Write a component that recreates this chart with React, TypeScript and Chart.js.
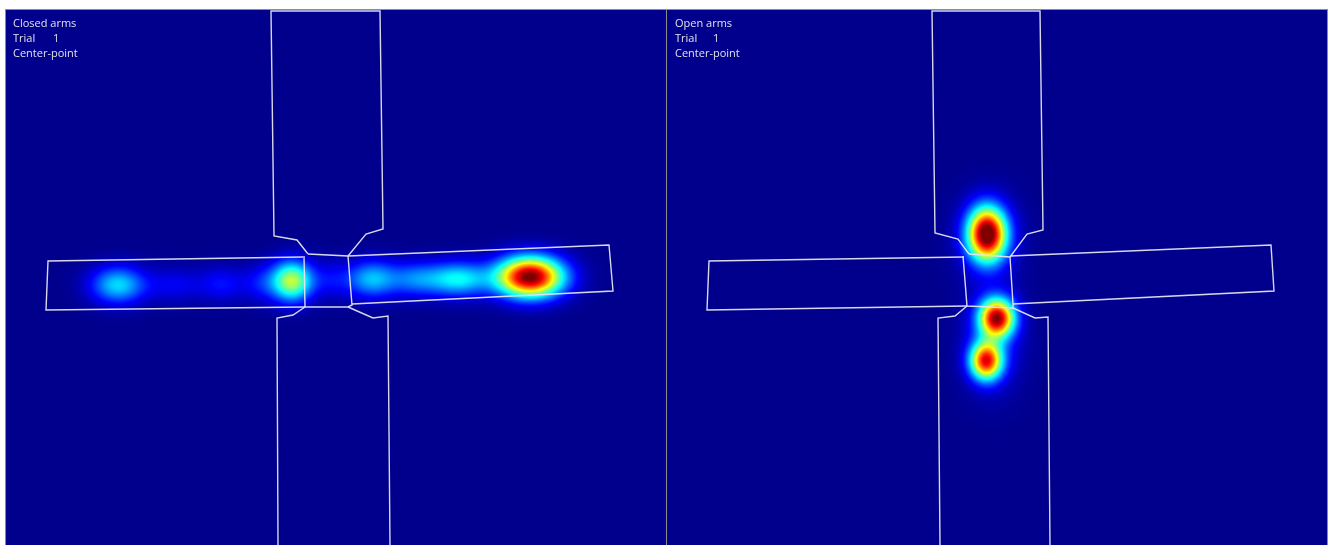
import React, { useEffect, useRef } from "react";
import { Chart, registerables } from "chart.js";

Chart.register(...registerables);

// ---- Data (panel data units: x 0..660, y 0..535, y grows downward) ----
const X_MAX = 660;
const Y_MAX = 535;

// Closed arms panel: maze outline pieces
const closedTopArm = [[302, 244], [291, 230], [268, 226], [265, 1], [374, 1], [377, 219], [360, 224], [342, 246]];
const closedLeftArm = [[297, 247], [42, 251], [40, 300], [299, 297]];
const closedRightArm = [[342, 246], [603, 235], [607, 281], [346, 294]];
const closedCenter = [[298, 246], [299, 297], [342, 297], [346, 295], [342, 246], [302, 244]];
const closedBottomLeft = [[299, 297], [287, 305], [271, 308], [272, 535]];
const closedBottomRight = [[342, 297], [367, 308], [382, 306], [384, 535]];

// Closed arms heat samples: x, y, weight, spread x, spread y
const closedHeatX = [112, 169, 216, 256, 286, 324, 366, 409, 452, 524];
const closedHeatY = [275, 275, 274, 273, 271, 270, 269, 269, 269, 267];
const closedHeatW = [0.33, 0.1, 0.12, 0.12, 0.55, 0.1, 0.3, 0.2, 0.36, 1.02];
const closedHeatSX = [19, 20, 16, 14, 14, 14, 18, 18, 22, 23];
const closedHeatSY = [13, 12, 12, 13, 14, 13, 13, 12, 12, 14];

// Open arms panel
const openTopArm = [[302, 244], [291, 229], [268, 223], [265, 1], [373, 1], [376, 220], [360, 224], [343, 247]];
const openLeftArm = [[297, 247], [42, 251], [40, 300], [300, 296]];
const openRightArm = [[343, 246], [604, 235], [607, 281], [346, 294]];
const openCenter = [[296, 246], [300, 296], [346, 298], [346, 294], [343, 247], [302, 244]];
const openBottomLeft = [[300, 296], [288, 306], [271, 308], [273, 535]];
const openBottomRight = [[346, 298], [368, 308], [381, 307], [383, 535]];

const openHeatX = [320, 330, 319, 321, 326];
const openHeatY = [224, 308, 351, 226, 328];
const openHeatW = [0.95, 0.88, 0.8, 0.15, 0.15];
const openHeatSX = [13, 12, 11, 20, 19];
const openHeatSY = [18, 13, 13, 26, 34];

const closedLabels = ["Closed arms", "Trial", "Center-point"];
const openLabels = ["Open arms", "Trial", "Center-point"];
const trialNumber = "1";

// ---- helpers ----
function clamp01(v: number) {
  return v < 0 ? 0 : v > 1 ? 1 : v;
}
function jet(v: number): [number, number, number] {
  const t = 4 * (0.012 + 0.988 * clamp01(v));
  return [
    Math.round(255 * clamp01(1.5 - Math.abs(t - 3))),
    Math.round(255 * clamp01(1.5 - Math.abs(t - 2))),
    Math.round(255 * clamp01(1.5 - Math.abs(t - 1))),
  ];
}

const heatPlugin = {
  id: "heatLayer",
  beforeDatasetsDraw(chart: any) {
    const ds = chart.data.datasets.find((d: any) => d.isHeat);
    if (!ds) return;
    const area = chart.chartArea;
    const xs = chart.scales.x;
    const ys = chart.scales.y;
    const w = Math.round(area.right - area.left);
    const h = Math.round(area.bottom - area.top);
    const pts = ds.data.map((p: any) => {
      const px = xs.getPixelForValue(p.x) - area.left;
      const py = ys.getPixelForValue(p.y) - area.top;
      const sxp = Math.abs(xs.getPixelForValue(p.x + p.sx) - xs.getPixelForValue(p.x));
      const syp = Math.abs(ys.getPixelForValue(p.y + p.sy) - ys.getPixelForValue(p.y));
      return { px, py, sxp, syp, w: p.w };
    });
    const off = document.createElement("canvas");
    off.width = w;
    off.height = h;
    const octx = off.getContext("2d")!;
    const img = octx.createImageData(w, h);
    const d = img.data;
    for (let j = 0; j < h; j++) {
      for (let i = 0; i < w; i++) {
        let v = 0;
        for (const p of pts) {
          const dx = (i + 0.5 - p.px) / p.sxp;
          const dy = (j + 0.5 - p.py) / p.syp;
          const r2 = dx * dx + dy * dy;
          if (r2 < 30) v += p.w * Math.exp(-0.5 * r2);
        }
        const [r, g, b] = jet(v);
        const k = (j * w + i) * 4;
        d[k] = r;
        d[k + 1] = g;
        d[k + 2] = b;
        d[k + 3] = 255;
      }
    }
    octx.putImageData(img, 0, 0);
    chart.ctx.drawImage(off, area.left, area.top);
  },
};

const labelPlugin = {
  id: "cornerLabels",
  afterDatasetsDraw(chart: any, _args: any, opts: any) {
    const ctx = chart.ctx;
    const area = chart.chartArea;
    const lines: string[] = opts.lines || [];
    ctx.save();
    ctx.fillStyle = "rgba(225,225,235,1)";
    ctx.font = "11px 'Open Sans', 'Noto Sans', sans-serif";
    ctx.textBaseline = "middle";
    ctx.textAlign = "left";
    lines.forEach((t, idx) => {
      ctx.fillText(t, area.left + opts.x, area.top + 14 + idx * 15);
    });
    ctx.fillText(opts.trial, area.left + opts.trialX, area.top + 29);
    ctx.restore();
  },
};

function toPts(arr: number[][]) {
  return arr.map(([x, y]) => ({ x, y }));
}

function outline(arr: number[][]) {
  return {
    data: toPts(arr),
    showLine: true,
    borderColor: "rgba(228,228,238,0.95)",
    borderWidth: 1.4,
    pointRadius: 0,
    pointHoverRadius: 0,
    fill: false,
    tension: 0,
  };
}

function heatData(xs: number[], ys: number[], ws: number[], sx: number[], sy: number[]) {
  return xs.map((x, i) => ({ x, y: ys[i], w: ws[i], sx: sx[i], sy: sy[i] }));
}

function Panel(props: { left: number; pieces: number[][][]; heat: any[]; labels: string[]; textX: number; trialX: number }) {
  const ref = useRef<HTMLCanvasElement | null>(null);
  useEffect(() => {
    if (!ref.current) return;
    const chart = new Chart(ref.current, {
      type: "scatter",
      data: {
        datasets: [
          { isHeat: true, data: props.heat, pointRadius: 0, showLine: false } as any,
          ...props.pieces.map((p) => outline(p) as any),
        ],
      },
      options: {
        responsive: false,
        animation: false,
        events: [],
        layout: { padding: 0 },
        scales: {
          x: { type: "linear", min: 0, max: X_MAX, display: false },
          y: { type: "linear", min: 0, max: Y_MAX, reverse: true, display: false },
        },
        plugins: {
          legend: { display: false },
          tooltip: { enabled: false },
          cornerLabels: { lines: props.labels, trial: trialNumber, x: props.textX, trialX: props.trialX },
        } as any,
      },
      plugins: [heatPlugin, labelPlugin],
    });
    return () => chart.destroy();
  }, []);
  return (
    <canvas
      ref={ref}
      width={X_MAX}
      height={Y_MAX}
      style={{ position: "absolute", left: props.left, top: 10, width: X_MAX, height: Y_MAX }}
    />
  );
}

export default function App() {
  return (
    <div style={{ position: "fixed", left: 0, top: 0, width: 1330, height: 545, background: "#ffffff", overflow: "hidden" }}>
      <div style={{ position: "absolute", left: 5, top: 9, width: 1323, height: 536, background: "#8c8c8c" }} />
      <Panel
        left={6}
        pieces={[closedTopArm, closedLeftArm, closedRightArm, closedCenter, closedBottomLeft, closedBottomRight]}
        heat={heatData(closedHeatX, closedHeatY, closedHeatW, closedHeatSX, closedHeatSY)}
        labels={closedLabels}
        textX={7}
        trialX={47}
      />
      <Panel
        left={667}
        pieces={[openTopArm, openLeftArm, openRightArm, openCenter, openBottomLeft, openBottomRight]}
        heat={heatData(openHeatX, openHeatY, openHeatW, openHeatSX, openHeatSY)}
        labels={openLabels}
        textX={8}
        trialX={46}
      />
    </div>
  );
}
